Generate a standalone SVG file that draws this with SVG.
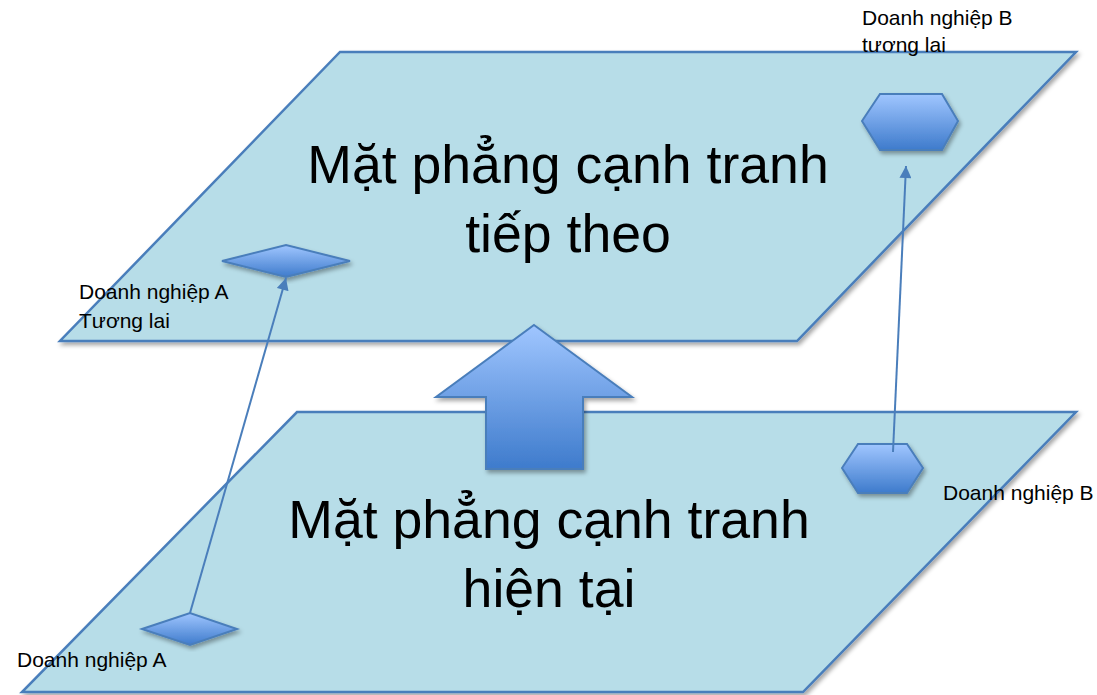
<svg xmlns="http://www.w3.org/2000/svg" width="1097" height="695" viewBox="0 0 1097 695">
<style>
.plane{fill:#b7dde8;stroke:#4a7ebb;stroke-width:2.5;filter:url(#sh)}
.shape{fill:url(#g);stroke:#4a7ebb;stroke-width:2;filter:url(#sh)}
.conn{stroke:#4a7ebb;stroke-width:2;fill:none;marker-end:url(#ah)}
.big{font-family:"Liberation Sans",Arial,sans-serif;font-size:53.6px;fill:#000;text-anchor:middle}
.lbl{font-family:"Liberation Sans",Arial,sans-serif;font-size:21px;fill:#000}
</style>
<defs>
<linearGradient id="g" x1="0" y1="0" x2="0" y2="1">
<stop offset="0" stop-color="#a0c6ff"/>
<stop offset="1" stop-color="#3e7bcc"/>
</linearGradient>
<filter id="sh" x="-10%" y="-10%" width="120%" height="130%">
<feDropShadow dx="2" dy="3" stdDeviation="2" flood-color="#000" flood-opacity="0.35"/>
</filter>
<marker id="ah" viewBox="0 0 10 10" refX="10" refY="5" markerWidth="6.5" markerHeight="6" orient="auto" markerUnits="strokeWidth">
<path d="M0,0 L10,5 L0,10 z" fill="#4a7ebb"/>
</marker>
</defs>
<g id="plane-next">
<polygon class="plane" points="340,52 1076,52 797,341 60,341"/>
</g>
<g id="plane-current">
<polygon class="plane" points="297,412 1076,412 803,692 22,692"/>
</g>
<g id="big-arrow">
<polygon class="shape" points="534,325 632,397 583,397 583,469 486,469 486,397 436,397"/>
</g>
<g id="node-a-future">
<polygon class="shape" points="222,261 286,245 350,261 286,277"/>
</g>
<g id="node-a">
<polygon class="shape" points="142,629 190,613 237,629 190,645"/>
</g>
<g id="node-b-future">
<polygon class="shape" points="862,121 880,94 942,94 958,121 942,150 880,150"/>
</g>
<g id="node-b">
<polygon class="shape" points="842,468 858,444 907,444 923,468 907,493 858,493"/>
</g>
<g id="connectors">
<line class="conn" x1="190" y1="613" x2="286" y2="278"/>
<line class="conn" x1="893" y1="452" x2="906" y2="166"/>
</g>
<g id="texts">
<text class="big" x="568" y="183">Mặt phẳng cạnh tranh</text>
<text class="big" x="568" y="252">tiếp theo</text>
<text class="big" x="549" y="538">Mặt phẳng cạnh tranh</text>
<text class="big" x="549" y="607">hiện tại</text>
<text class="lbl" x="79" y="299">Doanh nghiệp A</text>
<text class="lbl" x="79" y="328">Tương lai</text>
<text class="lbl" x="862" y="25">Doanh nghiệp B</text>
<text class="lbl" x="862" y="52">tương lai</text>
<text class="lbl" x="943" y="500">Doanh nghiệp B</text>
<text class="lbl" x="17" y="667">Doanh nghiệp A</text>
</g>
</svg>
